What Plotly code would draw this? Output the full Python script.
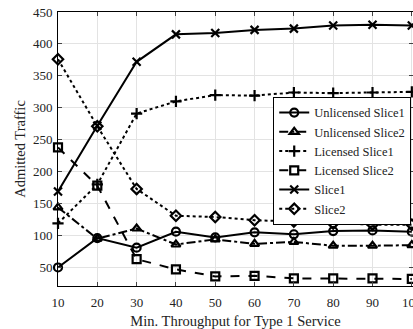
import plotly.graph_objects as go

x_vals = [10, 20, 30, 40, 50, 60, 70, 80, 90, 100]
unlicensed_slice1 = [50, 96, 81, 106, 97, 105, 102, 107, 108, 106]
unlicensed_slice2 = [144, 95, 111, 86, 94, 87, 90, 84, 84, 85]
licensed_slice1 = [119, 180, 291, 310, 320, 319, 324, 323, 324, 325]
licensed_slice2 = [238, 178, 63, 47, 36, 37, 33, 33, 33, 32]
slice1 = [169, 272, 372, 415, 417, 422, 424, 429, 430, 429]
slice2 = [376, 271, 173, 131, 129, 124, 122, 119, 117, 117]

series = [
    ("Unlicensed Slice1", unlicensed_slice1, "solid", "circle-open"),
    ("Unlicensed Slice2", unlicensed_slice2, "dashdot", "triangle-up-open"),
    ("Licensed Slice1", licensed_slice1, "dot", "cross-thin-open"),
    ("Licensed Slice2", licensed_slice2, "dash", "square-open"),
    ("Slice1", slice1, "solid", "x-thin-open"),
    ("Slice2", slice2, "dot", "diamond-open"),
]

fig = go.Figure()
for name, ys, dash, sym in series:
    fig.add_trace(go.Scatter(
        x=x_vals, y=ys, name=name, mode="lines+markers",
        line=dict(color="black", width=2, dash=dash),
        marker=dict(symbol=sym, size=8, color="black",
                    line=dict(color="black", width=2.2)),
        cliponaxis=False,
    ))

SERIF = "'Liberation Serif', 'Times New Roman', Times, serif"
fig.update_layout(
    width=413, height=329,
    margin=dict(l=58, r=0, t=12, b=43, autoexpand=False),
    paper_bgcolor="white", plot_bgcolor="white",
    font=dict(family=SERIF, size=13, color="#222"),
    showlegend=True,
    legend=dict(x=0.995, y=0.69, xanchor="right", yanchor="top",
                bordercolor="black", borderwidth=1, bgcolor="white",
                font=dict(family=SERIF, size=12.5, color="#222"),
                tracegroupgap=0, itemwidth=30),
    xaxis=dict(range=[10, 100.3], tickvals=x_vals, ticks="inside", ticklen=4,
               ticklabelstandoff=4, ticklabeloverflow="allow", automargin=False,
               tickfont=dict(family=SERIF, size=13, color="#222"),
               showline=True, linecolor="black", linewidth=1, mirror="ticks",
               showgrid=True, gridcolor="#e3e3e3", zeroline=False,
               title=dict(text="Min. Throughput for Type 1 Service", standoff=7,
                          font=dict(family=SERIF, size=14.5, color="#222"))),
    yaxis=dict(range=[21, 450], tickvals=[50, 100, 150, 200, 250, 300, 350, 400, 450],
               ticks="inside", ticklen=4, ticklabelstandoff=2, automargin=False,
               tickfont=dict(family=SERIF, size=13, color="#222"),
               showline=True, linecolor="black", linewidth=1, mirror="ticks",
               showgrid=True, gridcolor="#e3e3e3", zeroline=False,
               title=dict(text="Admitted Traffic", standoff=3,
                          font=dict(family=SERIF, size=14.5, color="#222"))),
)
fig.write_html("out.html", config={"displayModeBar": False},
               post_script="document.body.style.margin='0';")
